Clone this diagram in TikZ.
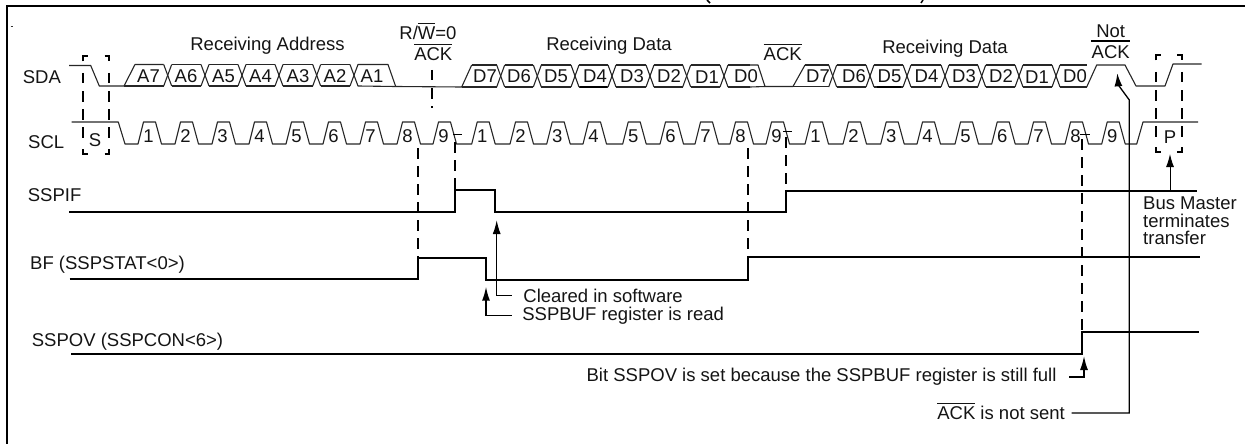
\documentclass[tikz,border=0pt]{standalone}
\usepackage{fontspec}
\setmainfont{Liberation Sans}
\usetikzlibrary{arrows.meta}
\newcommand{\ovl}[1]{\setbox0\hbox{#1}\rlap{\raisebox{15pt}{\rule{\wd0}{1.3pt}}}#1}
\tikzset{
  x=1pt,y=-1pt,
  lbl/.style={font=\fontsize{18.5}{17.5}\selectfont,inner sep=0pt,text=black!92},
  bit/.style={font=\fontsize{18.5}{18}\selectfont,inner sep=0pt,text=black!92},
  wave/.style={line width=1.1pt,black!85,line join=round},
  sig/.style={line width=1.8pt,black,line join=miter},
  dashln/.style={line width=1.7pt,black,dash pattern=on 10.5pt off 7.5pt},
  corner/.style={line width=1.7pt,black},
  frame/.style={line width=2pt,black},
  arrthick/.style={line width=1.5pt,black,-{Latex[length=14pt,width=8pt]}},
  arrthin/.style={line width=1pt,black,-{Latex[length=13pt,width=8pt]}},
}
\begin{document}
\begin{tikzpicture}
\useasboundingbox (0,0) rectangle (1245,444);
% frame
\draw[frame] (7,444) -- (7,6.5) -- (1245,6.5);
\draw[line width=.8pt,black!80] (10.5,26) -- (13,26);
% title remnants
\draw[line width=1.5pt] (707,0) -- (710,3);
\draw[line width=1.5pt] (921,3) -- (923,0);
% SDA first part
\draw[wave] (69,65.5) -- (90.7,65.5) -- (99.3,86) -- (124,86) -- (135,64.5) -- (163.7,64.5);
\draw[wave] (124,86) -- (163.7,86);
\foreach \cc/\nn in {167.7/205,205/242,242/279,279/316.7,316.7/354}{
  \draw[wave] (\cc-4,64.5) -- (\cc+4,86);
  \draw[wave] (\cc-4,86) -- (\cc+4,64.5);
  \draw[wave] (\cc+4,64.5) -- (\nn-4,64.5);
  \draw[wave] (\cc+4,86) -- (\nn-4,86);
}
\draw[wave] (350,86) -- (358,64.5) -- (388,64.5) -- (395.7,86.5) -- (461.7,87) -- (471.7,65);
\draw[wave] (350,64.5) -- (358,86) -- (395.7,86.5);
\node[bit] (bA7) at (148.5,76.5) {A7};
\node[bit] (bA6) at (186,76.5) {A6};
\node[bit] (bA5) at (223.5,76.5) {A5};
\node[bit] (bA4) at (260.5,76.5) {A4};
\node[bit] (bA3) at (298,76.5) {A3};
\node[bit] (bA2) at (335,76.5) {A2};
\node[bit] (bA1) at (372,76.5) {A1};
% D7..D0 first
\draw[wave] (461.7,87) -- (496.7,87);
\draw[wave] (471.7,65) -- (496.7,65);
\foreach \cc/\nn in {500.7/537.3,537.3/575,575/612,612/650,650/686.7,686.7/724,724/754}{
  \draw[wave] (\cc-4,65) -- (\cc+4,87);
  \draw[wave] (\cc-4,87) -- (\cc+4,65);
  \draw[wave] (\cc+4,65) -- (\nn-4,65);
  \draw[wave] (\cc+4,87) -- (\nn-4,87);
}
\draw[wave] (750,65) -- (758,65) -- (765,86.5) -- (793,86.5) -- (805,65);
\draw[wave] (750,87) -- (765,86.5);
\draw[line width=1.8pt] (580,87) -- (606.7,87);
\node[bit] (d1a) at (485,76.5) {D7};
\node[bit] (d1b) at (519,76.5) {D6};
\node[bit] (d1c) at (556,76.5) {D5};
\node[bit] (d1d) at (595,76.5) {D4};
\node[bit] (d1e) at (632,76.5) {D3};
\node[bit] (d1f) at (669,76.5) {D2};
\node[bit] (d1g) at (707,77) {D1};
\node[bit] (d1h) at (746,76.5) {D0};
% D7..D0 second
\draw[wave] (793,86.5) -- (828.7,86.5);
\draw[wave] (805,65) -- (828.7,65);
\foreach \cc/\nn in {832.7/870,870/907,907/945,945/981.7,981.7/1019,1019/1056,1056/1091}{
  \draw[wave] (\cc-4,65) -- (\cc+4,87);
  \draw[wave] (\cc-4,87) -- (\cc+4,65);
  \draw[wave] (\cc+4,65) -- (\nn-4,65);
  \draw[wave] (\cc+4,87) -- (\nn-4,87);
}
\draw[wave] (1086.7,87) -- (1096.7,65) -- (1125,65) -- (1136,86) -- (1165,86) -- (1173,64) -- (1201.7,64);
\draw[line width=1.8pt] (876.7,87) -- (900.7,87);
\node[bit] (d2a) at (818,76.5) {D7};
\node[bit] (d2b) at (854,76.5) {D6};
\node[bit] (d2c) at (889.5,76.5) {D5};
\node[bit] (d2d) at (926.5,76.5) {D4};
\node[bit] (d2e) at (964,76.5) {D3};
\node[bit] (d2f) at (1001,76.5) {D2};
\node[bit] (d2g) at (1037,77) {D1};
\node[bit] (d2h) at (1075,76.5) {D0};
% SCL
\draw[wave] (71.7,122) -- (118.3,122) -- (125,144)
  foreach \rr in {138,175,212,249,286,323,360,397,433,471.7,510,546.7,583,622.7,660,695,730,766,805,843,880.7,917,955,991.7,1028,1065,1101.7}{
    -- (\rr,144) -- (\rr+5.5,122) -- (\rr+17.5,122) -- (\rr+23.5,144) }
  -- (1136.7,144) -- (1143,122) -- (1198,122);
\foreach \rr/\tt [count=\ii] in {138/1,175/2,212/3,249/4,286/5,323/6,360/7,397/8,433/9,471.7/1,510/2,546.7/3,583/4,622.7/5,660/6,695/7,730/8,766/9,805/1,843/2,880.7/3,917/4,955/5,991.7/6,1028/7,1065/8,1101.7/9}{
  \node[bit] (clk\ii) at (\rr+10.5,136.5) {\tt};
}
% dashed boxes: corner pieces and dashed sides
\draw[corner] (82.7,61.5) -- (82.7,56) -- (87.5,56);
\draw[corner] (104.5,56) -- (109,56) -- (109,61.5);
\draw[corner] (82.7,149) -- (82.7,154) -- (87.5,154);
\draw[corner] (104.5,154) -- (109,154) -- (109,149);
\draw[dashln] (82.7,73) -- (82.7,143);
\draw[dashln] (109,73) -- (109,143);
\draw[corner] (1156,60.5) -- (1156,55) -- (1160.5,55);
\draw[corner] (1177,55) -- (1181.7,55) -- (1181.7,60.5);
\draw[corner] (1156,147) -- (1156,152) -- (1160.5,152);
\draw[corner] (1177,152) -- (1181.7,152) -- (1181.7,147);
\draw[dashln] (1156,72) -- (1156,141);
\draw[dashln] (1181.7,72) -- (1181.7,141);
% vertical dashed guides
\draw[dashln] (417.7,148) -- (417.7,258);
\draw[dashln] (431.7,70) -- (431.7,108);
\draw[dashln] (455,142) -- (455,190);
\draw[dashln] (747.7,148) -- (747.7,257);
\draw[dashln] (786,137) -- (786,190);
\draw[dashln] (1082,139) -- (1082,332);
\draw[line width=1pt] (453,134.3) -- (462,134.3);
\draw[line width=1pt] (783,131) -- (792,131);
\draw[line width=1pt] (1080,134) -- (1090,134);
% signals
\draw[sig] (69,211.7) -- (455,211.7) -- (455,190) -- (495,190) -- (495,211.7) -- (786,211.7) -- (786,190.7) -- (1196.7,190.7);
\draw[sig] (69.7,278.7) -- (417.7,278.7) -- (417.7,257.7) -- (486,257.7) -- (486,280) -- (747.7,280) -- (747.7,256.7) -- (1200,256.7);
\draw[sig] (71.3,353.7) -- (1082,353.7) -- (1082,332) -- (1199,332);
% labels
\node[lbl,anchor=west] (sda) at (22.7,76.7) {SDA};
\node[lbl,anchor=west] (scl) at (28,142) {SCL};
\node[lbl] (s) at (95,140) {S};
\node[lbl] (p) at (1170,137) {P};
\node[lbl,anchor=west] (sspif) at (27.7,195) {SSPIF};
\node[lbl,anchor=west] (bf) at (30,265) {BF (SSPSTAT<0>)};
\node[lbl,anchor=west] (sspov) at (31.7,341.7) {SSPOV (SSPCON<6>)};
\node[lbl] (recA) at (267.5,46) {Receiving Address};
\node[lbl] (recD1) at (609,46) {Receiving Data};
\node[lbl] (recD2) at (945,49) {Receiving Data};
\node[lbl] (rw) at (428,31) {R/\ovl{W}=0};
\node[lbl] (ack1) at (433.3,52) {\ovl{ACK}};
\node[lbl] (ack2) at (782.7,52) {\ovl{ACK}};
\node[lbl] (not) at (1110.7,31) {Not};
\node[lbl] (ack3) at (1110.7,52) {ACK};
\draw[line width=1.3pt] (1091,41) -- (1130,41);
% arrows and their labels
\node[lbl,anchor=west,inner xsep=11.5pt] (clr) at (511.7,295.7) {Cleared in software};
\node[lbl,anchor=west,inner xsep=10.5pt] (rd) at (511.7,315.7) {SSPBUF register is read};
\node[lbl,anchor=east,inner xsep=12.6pt] (ov) at (1069.3,377) {Bit SSPOV is set because the SSPBUF register is still full};
\node[lbl,anchor=east,inner xsep=6.7pt] (nsent) at (1071.7,411) {\ovl{ACK} is not sent};
\node[lbl,align=left,anchor=north west] (bm) at (1143,197) {Bus Master\\terminates\\transfer};
\coordinate (tclr) at (496.7,220);
\coordinate (trd) at (486,286.7);
\coordinate (tov) at (1084,356);
\coordinate (tack) at (1117.3,73.3);
\coordinate (tp) at (1170,154);
\coordinate (bmtop) at (1170,190);
\coordinate (nsentend) at (1071.7,413);
\draw[arrthick] (clr.west) -| (tclr);
\draw[arrthick] (rd.west) -| (trd);
\draw[arrthick] (ov.east) -| (tov);
\draw[arrthin] (bmtop) -- (tp);
\draw[line width=1.3pt,black,-{Latex[length=13pt,width=8pt]}] (nsentend) -- (1129.3,413) -- (1129.3,100) -- (1118.3,85) -- (tack);
\end{tikzpicture}
\end{document}
